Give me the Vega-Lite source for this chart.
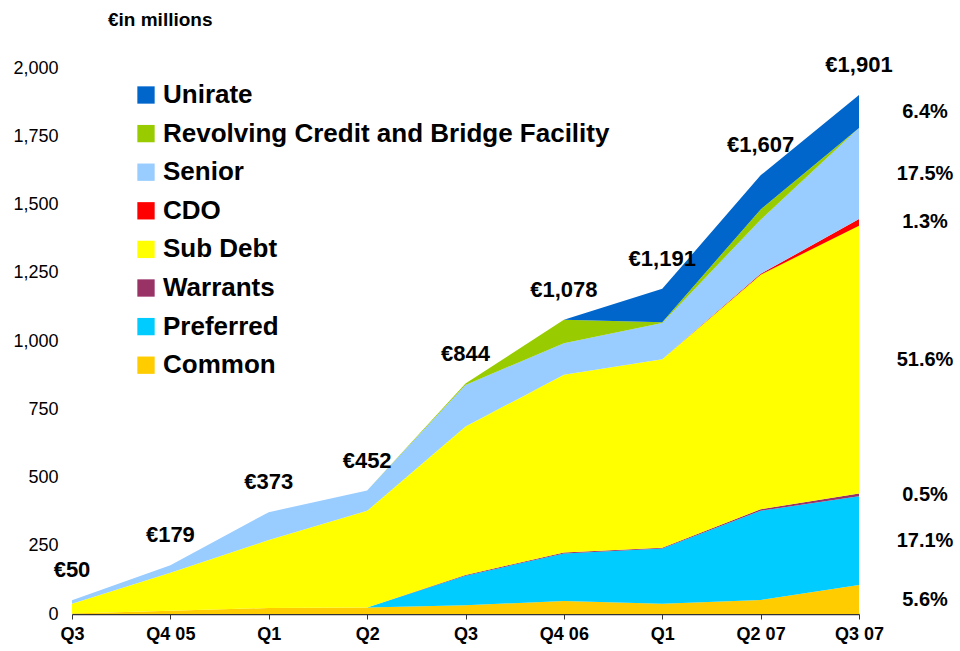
{
  "$schema": "https://vega.github.io/schema/vega-lite/v6.json",
  "width": 787,
  "height": 546,
  "autosize": {"type": "none"},
  "padding": {"left": 72, "top": 68, "right": 101, "bottom": 37},
  "background": "white",
  "config": {
    "view": {"stroke": null},
    "font": "Liberation Sans",
    "axis": {"grid": false, "labelFont": "Liberation Sans", "labelColor": "black", "titleFont": "Liberation Sans"},
    "text": {"font": "Liberation Sans"}
  },
  "title": {
    "text": "€in millions",
    "anchor": "start",
    "frame": "group",
    "dx": 36,
    "offset": 24,
    "fontSize": 19,
    "fontWeight": "bold",
    "font": "Liberation Sans",
    "color": "black"
  },
  "datasets": {
    "flows": [
      {"quarter": "Q3 05", "series": "Common", "value": 2},
      {"quarter": "Q3 05", "series": "Preferred", "value": 0},
      {"quarter": "Q3 05", "series": "Warrants", "value": 0},
      {"quarter": "Q3 05", "series": "Sub Debt", "value": 36},
      {"quarter": "Q3 05", "series": "CDO", "value": 0},
      {"quarter": "Q3 05", "series": "Senior", "value": 12},
      {"quarter": "Q3 05", "series": "Revolving Credit and Bridge Facility", "value": 0},
      {"quarter": "Q3 05", "series": "Unirate", "value": 0},
      {"quarter": "Q4 05", "series": "Common", "value": 12},
      {"quarter": "Q4 05", "series": "Preferred", "value": 0},
      {"quarter": "Q4 05", "series": "Warrants", "value": 0},
      {"quarter": "Q4 05", "series": "Sub Debt", "value": 139},
      {"quarter": "Q4 05", "series": "CDO", "value": 0},
      {"quarter": "Q4 05", "series": "Senior", "value": 28},
      {"quarter": "Q4 05", "series": "Revolving Credit and Bridge Facility", "value": 0},
      {"quarter": "Q4 05", "series": "Unirate", "value": 0},
      {"quarter": "Q1 06", "series": "Common", "value": 22},
      {"quarter": "Q1 06", "series": "Preferred", "value": 0},
      {"quarter": "Q1 06", "series": "Warrants", "value": 0},
      {"quarter": "Q1 06", "series": "Sub Debt", "value": 249},
      {"quarter": "Q1 06", "series": "CDO", "value": 0},
      {"quarter": "Q1 06", "series": "Senior", "value": 102},
      {"quarter": "Q1 06", "series": "Revolving Credit and Bridge Facility", "value": 0},
      {"quarter": "Q1 06", "series": "Unirate", "value": 0},
      {"quarter": "Q2 06", "series": "Common", "value": 24},
      {"quarter": "Q2 06", "series": "Preferred", "value": 0},
      {"quarter": "Q2 06", "series": "Warrants", "value": 0},
      {"quarter": "Q2 06", "series": "Sub Debt", "value": 354},
      {"quarter": "Q2 06", "series": "CDO", "value": 0},
      {"quarter": "Q2 06", "series": "Senior", "value": 74},
      {"quarter": "Q2 06", "series": "Revolving Credit and Bridge Facility", "value": 0},
      {"quarter": "Q2 06", "series": "Unirate", "value": 0},
      {"quarter": "Q3 06", "series": "Common", "value": 32},
      {"quarter": "Q3 06", "series": "Preferred", "value": 108},
      {"quarter": "Q3 06", "series": "Warrants", "value": 3},
      {"quarter": "Q3 06", "series": "Sub Debt", "value": 544},
      {"quarter": "Q3 06", "series": "CDO", "value": 0},
      {"quarter": "Q3 06", "series": "Senior", "value": 152},
      {"quarter": "Q3 06", "series": "Revolving Credit and Bridge Facility", "value": 5},
      {"quarter": "Q3 06", "series": "Unirate", "value": 0},
      {"quarter": "Q4 06", "series": "Common", "value": 48},
      {"quarter": "Q4 06", "series": "Preferred", "value": 174},
      {"quarter": "Q4 06", "series": "Warrants", "value": 3},
      {"quarter": "Q4 06", "series": "Sub Debt", "value": 651},
      {"quarter": "Q4 06", "series": "CDO", "value": 0},
      {"quarter": "Q4 06", "series": "Senior", "value": 116},
      {"quarter": "Q4 06", "series": "Revolving Credit and Bridge Facility", "value": 86},
      {"quarter": "Q4 06", "series": "Unirate", "value": 0},
      {"quarter": "Q1 07", "series": "Common", "value": 38},
      {"quarter": "Q1 07", "series": "Preferred", "value": 202},
      {"quarter": "Q1 07", "series": "Warrants", "value": 3},
      {"quarter": "Q1 07", "series": "Sub Debt", "value": 690},
      {"quarter": "Q1 07", "series": "CDO", "value": 0},
      {"quarter": "Q1 07", "series": "Senior", "value": 133},
      {"quarter": "Q1 07", "series": "Revolving Credit and Bridge Facility", "value": 3},
      {"quarter": "Q1 07", "series": "Unirate", "value": 122},
      {"quarter": "Q2 07", "series": "Common", "value": 51},
      {"quarter": "Q2 07", "series": "Preferred", "value": 327},
      {"quarter": "Q2 07", "series": "Warrants", "value": 6},
      {"quarter": "Q2 07", "series": "Sub Debt", "value": 859},
      {"quarter": "Q2 07", "series": "CDO", "value": 3},
      {"quarter": "Q2 07", "series": "Senior", "value": 198},
      {"quarter": "Q2 07", "series": "Revolving Credit and Bridge Facility", "value": 38},
      {"quarter": "Q2 07", "series": "Unirate", "value": 125},
      {"quarter": "Q3 07", "series": "Common", "value": 106},
      {"quarter": "Q3 07", "series": "Preferred", "value": 325},
      {"quarter": "Q3 07", "series": "Warrants", "value": 10},
      {"quarter": "Q3 07", "series": "Sub Debt", "value": 981},
      {"quarter": "Q3 07", "series": "CDO", "value": 25},
      {"quarter": "Q3 07", "series": "Senior", "value": 333},
      {"quarter": "Q3 07", "series": "Revolving Credit and Bridge Facility", "value": 0},
      {"quarter": "Q3 07", "series": "Unirate", "value": 121}
    ],
    "totals": [
      {"quarter": "Q3 05", "total": 50, "label": "€50"},
      {"quarter": "Q4 05", "total": 179, "label": "€179"},
      {"quarter": "Q1 06", "total": 373, "label": "€373"},
      {"quarter": "Q2 06", "total": 452, "label": "€452"},
      {"quarter": "Q3 06", "total": 844, "label": "€844"},
      {"quarter": "Q4 06", "total": 1078, "label": "€1,078"},
      {"quarter": "Q1 07", "total": 1191, "label": "€1,191"},
      {"quarter": "Q2 07", "total": 1607, "label": "€1,607"},
      {"quarter": "Q3 07", "total": 1901, "label": "€1,901"}
    ],
    "layers": [
      {"series": "Common", "rank": 1, "share": "5.6%"},
      {"series": "Preferred", "rank": 2, "share": "17.1%"},
      {"series": "Warrants", "rank": 3, "share": "0.5%"},
      {"series": "Sub Debt", "rank": 4, "share": "51.6%"},
      {"series": "CDO", "rank": 5, "share": "1.3%"},
      {"series": "Senior", "rank": 6, "share": "17.5%"},
      {"series": "Revolving Credit and Bridge Facility", "rank": 7, "share": null},
      {"series": "Unirate", "rank": 8, "share": "6.4%"}
    ]
  },
  "encoding": {
    "x": {
      "field": "quarter",
      "type": "ordinal",
      "sort": null,
      "scale": {"type": "point", "padding": 0, "domain": ["Q3 05", "Q4 05", "Q1 06", "Q2 06", "Q3 06", "Q4 06", "Q1 07", "Q2 07", "Q3 07"]},
      "axis": {
        "title": null,
        "labelAngle": 0,
        "labelFontSize": 18,
        "labelFontWeight": "bold",
        "labelPadding": 6,
        "domainColor": "#333333",
        "domainWidth": 1.5,
        "tickColor": "#333333",
        "tickSize": 5,
        "labelExpr": "datum.value == 'Q3 05' ? 'Q3' : datum.value == 'Q1 06' ? 'Q1' : datum.value == 'Q2 06' ? 'Q2' : datum.value == 'Q3 06' ? 'Q3' : datum.value == 'Q1 07' ? 'Q1' : datum.value"
      }
    }
  },
  "layer": [
    {
      "data": {"name": "flows"},
      "transform": [
        {"lookup": "series", "from": {"data": {"name": "layers"}, "key": "series", "fields": ["rank"]}}
      ],
      "mark": {"type": "area", "opacity": 1},
      "encoding": {
        "y": {
          "field": "value",
          "type": "quantitative",
          "stack": "zero",
          "scale": {"domain": [0, 2000], "nice": false},
          "axis": {
            "title": null,
            "values": [0, 250, 500, 750, 1000, 1250, 1500, 1750, 2000],
            "format": ",d",
            "labelFontSize": 18,
            "labelPadding": 14,
            "ticks": false,
            "domain": false
          }
        },
        "order": {"field": "rank", "type": "quantitative", "sort": "ascending"},
        "color": {
          "field": "series",
          "type": "nominal",
          "scale": {
            "domain": ["Common", "Preferred", "Warrants", "Sub Debt", "CDO", "Senior", "Revolving Credit and Bridge Facility", "Unirate"],
            "range": ["#FFCC00", "#00CCFF", "#993366", "#FFFF00", "#FF0000", "#99CCFF", "#99CC00", "#0066CC"]
          },
          "legend": {
            "title": null,
            "orient": "none",
            "legendX": 61,
            "legendY": 14,
            "values": ["Unirate", "Revolving Credit and Bridge Facility", "Senior", "CDO", "Sub Debt", "Warrants", "Preferred", "Common"],
            "symbolType": "square",
            "symbolSize": 300,
            "symbolStrokeWidth": 0,
            "symbolOpacity": 1,
            "labelFontSize": 26,
            "labelFontWeight": "bold",
            "labelFont": "Liberation Sans",
            "labelColor": "black",
            "labelLimit": 700,
            "labelOffset": 4,
            "rowPadding": 12.6,
            "padding": 0
          }
        }
      }
    },
    {
      "data": {"name": "totals"},
      "mark": {"type": "text", "fontSize": 22, "fontWeight": "bold", "dy": -30, "dx": 0, "color": "black"},
      "encoding": {
        "y": {"field": "total", "type": "quantitative"},
        "text": {"field": "label"}
      }
    },
    {
      "data": {"name": "flows"},
      "transform": [
        {"filter": "datum.quarter == 'Q3 07'"},
        {"stack": "value", "groupby": ["quarter"], "as": ["lo", "hi"]},
        {"lookup": "series", "from": {"data": {"name": "layers"}, "key": "series", "fields": ["share"]}},
        {"filter": "datum.share != null"},
        {"fold": ["lo", "hi"], "as": ["edge", "pos"]}
      ],
      "mark": {"type": "text", "fontSize": 20, "fontWeight": "bold", "dx": 66, "color": "black"},
      "encoding": {
        "y": {"aggregate": "mean", "field": "pos", "type": "quantitative", "stack": null},
        "text": {"field": "share"}
      }
    }
  ]
}
